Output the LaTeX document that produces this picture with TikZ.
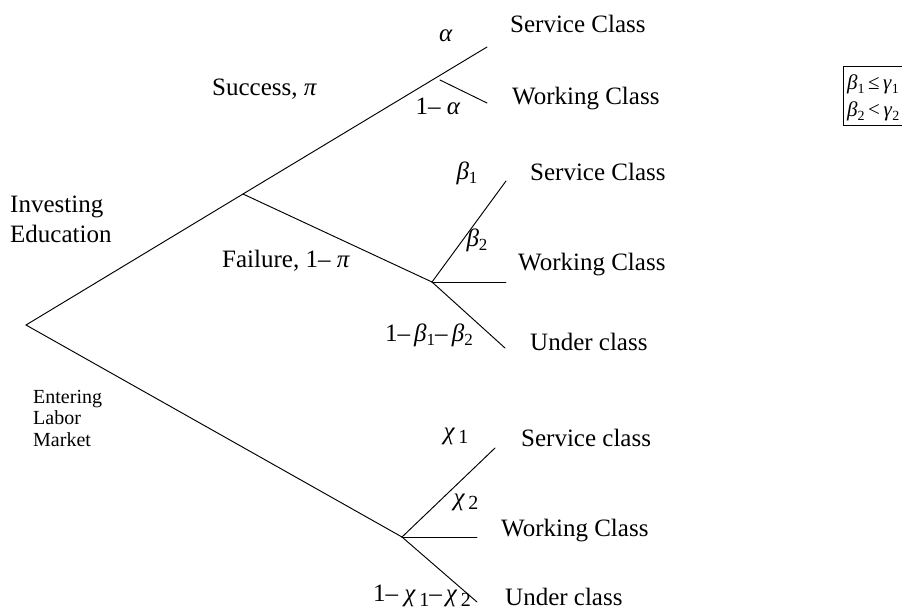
\documentclass[tikz,border=0pt]{standalone}
\usepackage{fontspec}
\setmainfont{Liberation Serif}
\newcommand{\gk}[1]{\textit{#1}}
\newcommand{\lowsub}[2]{\raisebox{-0.4ex}{\fontsize{#1}{#1}\selectfont #2}}
\tikzset{
  branch/.style={line width=0.95pt, line cap=round, line join=round},
  lbl/.style={inner sep=0pt, font=\fontsize{25}{30}\selectfont},
  smalllbl/.style={inner sep=0pt, align=left, font=\fontsize{20}{21.5}\selectfont},
  boxlbl/.style={inner sep=0pt, font=\fontsize{21}{24}\selectfont},
}
\begin{document}
\begin{tikzpicture}[x=1pt,y=-1pt]
\useasboundingbox[fill=white] (0,0) rectangle (902,610);
% branch points
\coordinate (R) at (26,325);
\coordinate (B) at (243,194);
\coordinate (T) at (487,47);
\coordinate (A1) at (440,80);
\coordinate (A2) at (487,103);
\coordinate (F) at (432,282);
\coordinate (F1) at (506,181);
\coordinate (F2) at (506,282);
\coordinate (F3) at (505,348);
\coordinate (L) at (402,537);
\coordinate (L1) at (495,448);
\coordinate (L2) at (477,537);
\coordinate (L3) at (477,602);
% connectors
\draw[branch] (R) -- (B) -- (T);
\draw[branch] (A1) -- (A2);
\draw[branch] (B) -- (F);
\draw[branch] (F) -- (F1);
\draw[branch] (F) -- (F2);
\draw[branch] (F) -- (F3);
\draw[branch] (R) -- (L);
\draw[branch] (L) -- (L1);
\draw[branch] (L) -- (L2);
\draw[branch] (L) -- (L3);
% outcome labels
\node[lbl, anchor=west] (s1) at (510,24) {Service Class};
\node[lbl, anchor=west] (w1) at (512,99) {Working Class};
\node[lbl, anchor=west] (s2) at (530,172) {Service Class};
\node[lbl, anchor=west] (w2) at (518,265) {Working Class};
\node[lbl, anchor=west] (u2) at (530,342) {Under class};
\node[lbl, anchor=west] (s3) at (521,438) {Service class};
\node[lbl, anchor=west] (w3) at (501,531) {Working Class};
\node[lbl, anchor=west] (u3) at (505,597) {Under class};
% branch labels
\node[lbl, anchor=west] (succ) at (212,89) {Success, \gk{π}};
\node[lbl, anchor=west] (fail) at (222,261) {Failure, 1– \gk{π}};
\node[lbl, anchor=west, align=left, font=\fontsize{25}{30}\selectfont] (inv) at (10,219) {Investing\\Education};
\node[smalllbl, anchor=west] (ent) at (33,418) {Entering\\Labor\\Market};
% probabilities
\node[lbl] (pa) at (446,36) {\gk{α}};
\node[lbl] (pna) at (438,106) {1– \gk{α}};
\node[lbl] (pb1) at (467,173) {\gk{β}\lowsub{17}{1}};
\node[lbl] (pb2) at (477,240) {\gk{β}\lowsub{17}{2}};
\node[lbl, anchor=east] (pb3) at (473,335) {1–\,\gk{β}\lowsub{17}{1}–\,\gk{β}\lowsub{17}{2}};
\node[lbl] (pc1) at (456,436) {\gk{χ}\lowsub{20}{\,1}};
\node[lbl] (pc2) at (466,502) {\gk{χ}\lowsub{20}{\,2}};
\node[lbl, anchor=east] (pc3) at (471,596) {1– \gk{χ}\lowsub{20}{\,1}–\,\gk{χ}\lowsub{20}{\,2}};
% condition box (cut at the right edge)
\coordinate (bx1) at (843,66);
\coordinate (bx2) at (915,125);
\draw[line width=0.9pt] (bx1) rectangle (bx2);
\node[boxlbl, anchor=west] (c1) at (847,84) {\gk{β}\lowsub{14}{1}\,≤\,\gk{γ}\lowsub{14}{1}};
\node[boxlbl, anchor=west] (c2) at (847,111) {\gk{β}\lowsub{14}{2}\,<\,\gk{γ}\lowsub{14}{2}};
\end{tikzpicture}
\end{document}
